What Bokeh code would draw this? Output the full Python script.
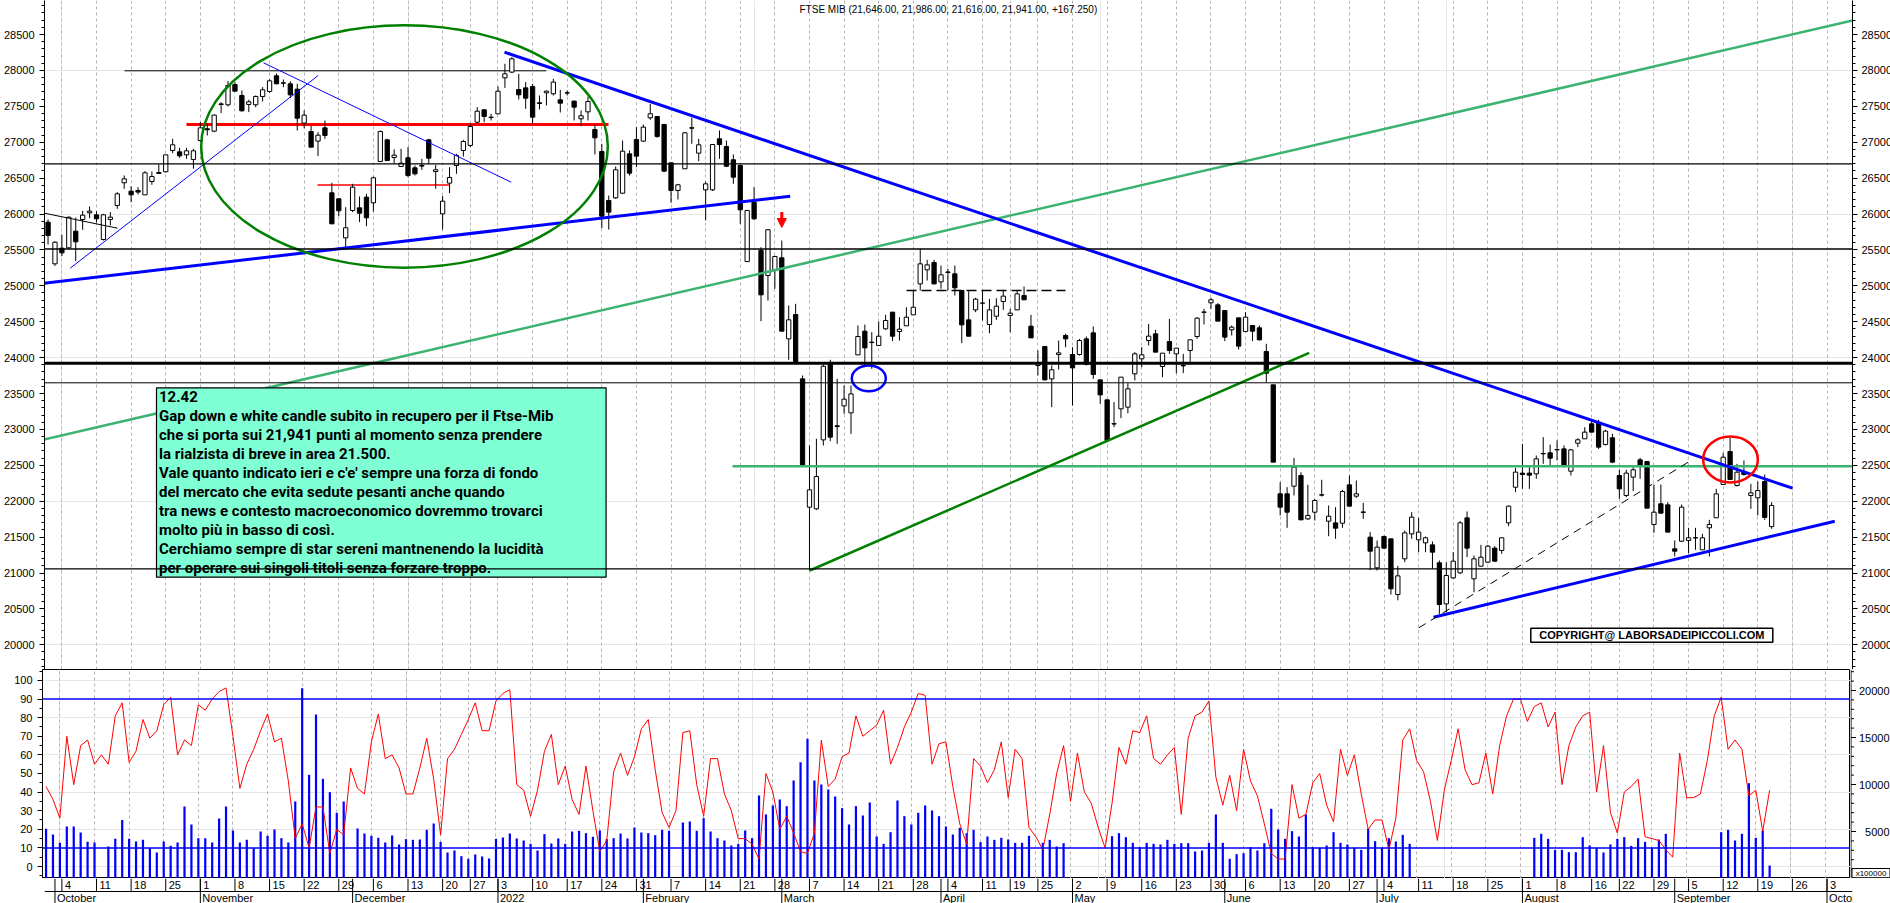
import pandas as pd
from bokeh.plotting import figure
from bokeh.layouts import column, row
from bokeh.models import (Range1d, LinearAxis, SingleIntervalTicker, FixedTicker,
                          Grid, Span, Arrow, NormalHead)
from bokeh.core.properties import value
from bokeh.embed import file_html
from bokeh.resources import INLINE

# ---------------- data (trading days 2021-09-30 .. 2022-09-21) ----------------
open_ = [25886, 25306, 25524, 25529, 25761, 25924, 26017, 25989, 25645, 25924,
         26119, 26435, 26318, 26328, 26267, 26453, 26565, 26588, 26885, 26866,
         26824, 26760, 27024, 27187, 27154, 27525, 27521, 27804, 27651, 27526,
         27521, 27637, 27707, 27925, 27820, 27813, 27739, 27266, 27149, 27015,
         27200, 26295, 26212, 25668, 26049, 26086, 26235, 26156, 26732, 27033,
         26787, 26662, 26783, 26643, 26676, 27033, 26592, 26002, 26430, 26676,
         26885, 26955, 27279, 27451, 27344, 27395, 27897, 27976, 27734, 27757,
         27776, 27549, 27688, 27674, 27590, 27688, 27572, 27326, 27423, 27177,
         26871, 26188, 26225, 26290, 26838, 27038, 27015, 27340, 27358, 27247,
         26713, 26328, 26630, 27201, 26848, 26337, 26337, 27047, 26940, 26755,
         26676, 25338, 26165, 25492, 25144, 25227, 25390, 24261, 24600, 23704,
         21917, 21894, 22854, 23922, 23050, 23328, 23231, 24038, 24368, 24210,
         24169, 24401, 24633, 24364, 24443, 24596, 25027, 25223, 25325, 25055,
         25193, 25167, 24935, 24526, 24665, 24758, 24461, 24577, 24781, 24587,
         24665, 24865, 24438, 23890, 24155, 23704, 24043, 24308, 24043, 24043,
         24261, 24345, 23690, 23412, 23075, 23287, 23310, 23774, 23983, 24238,
         24331, 23876, 24225, 24053, 23890, 24099, 24294, 24630, 24763, 24735,
         24656, 24387, 24554, 24364, 24447, 24415, 24085, 23621, 22103, 22103,
         22209, 22358, 21754, 21847, 22089, 21722, 21698, 21694, 22228, 22070,
         21850, 21499, 21072, 21508, 21476, 20700, 21197, 21545, 21462, 21420,
         21392, 21142, 20570, 20932, 21002, 21768, 20919, 21095, 21151, 21346,
         21314, 21699, 22195, 22391, 22391, 22381, 22665, 22674, 22720, 22729,
         22418, 22808, 22869, 23078, 23101, 22790, 22883, 22358, 22079, 22335,
         22576, 22553, 21676, 21964, 21949, 21337, 21443, 21453, 21488, 21323,
         21629, 21769, 22233, 22692, 22219, 22414, 22079, 22047, 22275, 21646]
high = [25924, 25620, 25710, 25965, 25952, 26044, 26105, 26040, 26003, 26026,
        26304, 26537, 26388, 26374, 26597, 26592, 26690, 26824, 27047, 26922,
        26922, 26908, 27279, 27256, 27386, 27558, 27851, 27837, 27721, 27591,
        27651, 27767, 27878, 27957, 27874, 27850, 27813, 27442, 27228, 27140,
        27303, 26435, 26212, 26095, 26420, 26244, 26281, 26523, 27163, 27047,
        26899, 26908, 26931, 26676, 26769, 27047, 26685, 26249, 26652, 26838,
        27033, 27256, 27488, 27451, 27395, 27776, 28092, 28185, 27953, 27837,
        27813, 27651, 27720, 27883, 27730, 27720, 27581, 27442, 27637, 27242,
        26978, 26258, 26662, 27024, 26885, 27210, 27247, 27535, 27358, 27256,
        26713, 26420, 27140, 27340, 27047, 26450, 26968, 27163, 27024, 26829,
        26690, 26060, 26374, 25538, 25790, 25420, 25631, 24726, 24749, 23751,
        22776, 22869, 23904, 23969, 23704, 23611, 23611, 24447, 24461, 24354,
        24503, 24596, 24633, 24563, 24702, 24935, 25515, 25362, 25362, 25283,
        25236, 25283, 24935, 24925, 24832, 24935, 24818, 24828, 24944, 24679,
        24935, 24990, 24596, 24099, 24155, 23890, 24238, 24331, 24145, 24261,
        24294, 24433, 23690, 23412, 23380, 23728, 23644, 24076, 24146, 24470,
        24387, 24062, 24540, 24132, 24053, 24248, 24563, 24679, 24833, 24758,
        24656, 24447, 24554, 24633, 24447, 24447, 24192, 23621, 22265, 22195,
        22604, 22404, 22228, 22033, 22298, 21940, 21917, 22158, 22358, 22288,
        21977, 21569, 21453, 21522, 21480, 21100, 21592, 21847, 21768, 21508,
        21439, 21174, 21151, 21290, 21722, 21857, 21244, 21392, 21392, 21374,
        21499, 21940, 22465, 22799, 22474, 22637, 22892, 22790, 22846, 22776,
        22729, 22878, 23031, 23124, 23133, 22994, 22939, 22437, 22437, 22474,
        22604, 22553, 22232, 22232, 21987, 21453, 21954, 21629, 21629, 21546,
        21741, 22172, 22669, 22883, 22520, 22567, 22242, 22275, 22372, 21986]
low = [25575, 25278, 25413, 25515, 25343, 25780, 25942, 25882, 25631, 25840,
       26072, 26351, 26165, 26272, 26267, 26407, 26565, 26578, 26848, 26783,
       26769, 26630, 27001, 27094, 27140, 27405, 27498, 27711, 27428, 27419,
       27488, 27567, 27688, 27809, 27767, 27614, 27163, 27196, 26931, 26806,
       27047, 25863, 25970, 25538, 26026, 25887, 25831, 26035, 26722, 26736,
       26704, 26662, 26513, 26537, 26616, 26699, 26351, 25784, 26290, 26560,
       26801, 26931, 27256, 27279, 27302, 27395, 27757, 27962, 27595, 27465,
       27256, 27456, 27512, 27651, 27414, 27651, 27303, 27224, 27303, 26829,
       25803, 25784, 26211, 26281, 26537, 26653, 27001, 27312, 27061, 26583,
       26156, 26202, 26630, 26978, 26736, 25910, 26320, 26769, 26653, 26420,
       25863, 25330, 25920, 24507, 24795, 24958, 24368, 23969, 23936, 22497,
       21035, 21880, 22776, 22836, 22799, 23217, 22938, 24038, 23867, 23844,
       24169, 24387, 24229, 24238, 24443, 24596, 24935, 25074, 25018, 24958,
       24935, 24865, 24201, 24298, 24633, 24517, 24340, 24526, 24665, 24354,
       24665, 24805, 24275, 23751, 23681, 23310, 23834, 24145, 23333, 24029,
       23890, 23704, 23356, 22822, 23031, 23157, 23226, 23681, 23867, 24169,
       24076, 23728, 24053, 23783, 23784, 23904, 24262, 24462, 24680, 24508,
       24229, 24308, 24113, 24354, 24229, 24238, 23658, 22544, 21801, 21629,
       22080, 21740, 21740, 21731, 22065, 21513, 21476, 21629, 21931, 22047,
       21754, 21040, 21035, 21337, 20700, 20620, 21151, 21476, 21290, 21290,
       21058, 20431, 20454, 20919, 20988, 21221, 20733, 21095, 21137, 21151,
       21267, 21652, 22126, 22172, 22172, 22312, 22520, 22497, 22567, 22474,
       22358, 22753, 22869, 22962, 22729, 22776, 22530, 22033, 22056, 22140,
       22312, 21903, 21559, 21833, 21569, 21230, 21430, 21276, 21323, 21323,
       21230, 21769, 22233, 22302, 22205, 22358, 21894, 21801, 21740, 21616]
close = [25701, 25608, 25459, 25956, 25613, 25984, 26040, 25933, 25989, 25956,
         26281, 26490, 26267, 26305, 26574, 26523, 26578, 26824, 26964, 26810,
         26880, 26880, 27200, 27173, 27377, 27534, 27790, 27711, 27437, 27563,
         27637, 27730, 27855, 27813, 27828, 27660, 27335, 27377, 26931, 27098,
         27094, 25863, 26045, 25808, 26374, 26012, 25947, 26504, 27149, 26745,
         26820, 26708, 26537, 26560, 26667, 26778, 26616, 26179, 26509, 26815,
         27010, 27219, 27432, 27358, 27349, 27711, 27953, 28162, 27660, 27614,
         27349, 27540, 27711, 27837, 27544, 27684, 27488, 27368, 27567, 27061,
         25970, 26026, 26616, 26875, 26569, 26806, 27210, 27396, 27080, 26597,
         26328, 26407, 27131, 27196, 26964, 26420, 26968, 26968, 26666, 26513,
         26058, 26049, 25933, 24874, 25780, 25408, 24368, 24526, 23946, 22497,
         22158, 22344, 23880, 22892, 23040, 23421, 23495, 24294, 24136, 24215,
         24298, 24517, 24298, 24396, 24563, 24702, 25306, 25292, 25027, 25153,
         25186, 24972, 24456, 24298, 24814, 24760, 24665, 24716, 24856, 24619,
         24888, 24805, 24275, 23922, 23690, 23830, 24066, 24261, 23857, 24238,
         23904, 23765, 23481, 22846, 23080, 23728, 23565, 24053, 24039, 24299,
         24076, 24062, 24099, 24132, 23885, 24248, 24549, 24636, 24805, 24508,
         24285, 24424, 24160, 24563, 24368, 24248, 23783, 22544, 21917, 21847,
         22474, 21740, 21801, 22010, 22085, 21791, 21624, 22135, 21931, 22103,
         21845, 21304, 21360, 21346, 20780, 20960, 21559, 21778, 21569, 21490,
         21290, 20561, 20965, 21165, 21699, 21346, 21197, 21220, 21374, 21165,
         21490, 21931, 22405, 22372, 22363, 22590, 22660, 22599, 22715, 22497,
         22715, 22855, 22962, 22962, 22753, 22976, 22544, 22172, 22391, 22437,
         22497, 21903, 21847, 21833, 21569, 21304, 21917, 21490, 21492, 21490,
         21676, 22102, 22613, 22302, 22404, 22372, 22116, 22149, 21774, 21941]
oscillator = [43, 36, 26, 70, 44, 65, 68, 55, 60, 55, 81, 88, 56, 62, 79, 69, 73, 87, 91, 60,
              68, 65, 87, 84, 90, 94, 96, 70, 42, 55, 63, 73, 82, 67, 69, 46, 15, 23, 10, 32,
              32, 7, 20, 17, 53, 42, 39, 67, 82, 58, 60, 53, 39, 39, 53, 69, 47, 17, 58, 63,
              71, 79, 88, 73, 73, 89, 93, 95, 44, 41, 27, 41, 62, 71, 44, 54, 36, 28, 54, 30,
              8, 14, 51, 61, 49, 59, 74, 79, 52, 29, 21, 30, 72, 73, 44,
              27, 58, 58, 39, 30, 15, 15, 12, 4, 50, 40, 20, 27, 18, 8, 7, 18, 68, 43, 47,
              59, 61, 81, 70, 73, 76, 84, 55, 64, 75, 83, 93, 92, 55, 66, 67, 43, 23, 12, 58,
              54, 45, 52, 67, 37, 63, 58, 21, 16, 9, 28, 50, 65, 35, 61, 40, 34, 21, 10, 34,
              64, 55, 73, 72, 81, 58, 55, 60, 64, 28, 69, 81, 83, 89, 48, 33, 49, 30, 63, 46,
              38, 23, 7, 4, 4, 44, 26, 28, 45, 50, 33, 24, 63, 49, 60, 39, 20, 25, 25, 9, 26,
              68, 74, 57, 51, 35, 14, 41, 57, 74, 52, 44, 45, 61, 39, 65, 81, 90, 90, 78, 86,
              88, 75, 83, 44, 65, 75, 81, 83, 40, 65, 29, 18, 40, 43, 47, 16, 15, 14, 9, 5,
              61, 37, 37, 39, 57, 81, 91, 63, 68, 63, 38, 41, 19, 41]
volume = [5286, 4683, 3796, 5534, 5534, 4896, 3902, 3831, 0, 3405, 4222, 6236, 4222, 3938,
          4115, 3228, 2767, 3938, 3476, 3831, 7661, 5747, 4293, 4293, 3831, 6377, 7661, 5108,
          3831, 4115, 3228, 5002, 4541, 5215, 4293, 3831, 8193, 20249, 11031, 17450, 10606,
          9186, 6987, 8193, 0, 5321, 4789, 4541, 4328, 3831, 4577, 3619, 4186, 4115, 4151,
          5179, 5853, 3902, 2767, 2980, 2376, 2093, 2554, 2341, 2128, 4222, 4364, 4789, 4257,
          4044, 3689, 2980, 4718, 3725, 4257, 3689, 5002, 5073, 4825, 4435, 5108, 4186, 4293,
          4789, 4257, 5428, 4896, 4825, 4612, 5179, 5073, 0, 5960, 6066, 5073,
          6419, 5001, 4291, 4043, 3511, 3689, 5107, 4291, 8831, 6810, 7767, 8406, 7696, 10427,
          12378, 14860, 10427, 10002, 9470, 8725, 7483, 5746, 7696, 6703, 8086, 4469, 3689,
          4930, 8299, 6632, 5746, 6987, 7767, 7235, 6632, 5533, 4682, 5391, 4823, 5178, 3866,
          4469, 4114, 4327, 4150, 3795, 3795, 4540, 0, 3795, 4114, 3405, 3759, 0, 0, 0, 0, 0,
          0, 4504, 4823, 4398, 3795, 3334, 3795, 3689, 3618, 4114, 3689, 3759, 3759, 2873,
          2979, 3795, 6810, 3795, 2093, 2589, 2695, 3334, 2979, 3759, 7413, 5214, 4221, 5036,
          4469, 6810, 3334, 3263, 3511, 4930, 3795, 3618, 3263, 3050, 5284, 3972, 3263, 4291,
          3937,
          4646, 3689, 0, 0, 0, 0, 0, 0, 0, 0, 0, 0, 0, 0, 0, 0, 0, 0, 0, 4327, 4753, 4221,
          3050, 3050, 2802, 2802, 4398, 3511, 3263, 2766, 3618, 4221, 4398, 3476, 4291, 3902,
          3263, 4150, 4753, 0, 0, 0, 0, 0, 0, 0, 4930, 5178, 4043, 4753, 10143, 4327, 5107,
          1383]
closed_days = ["2021-12-24", "2021-12-31", "2022-04-15", "2022-04-18", "2022-08-15"]
month_names = ["October", "November", "December", "2022", "February", "March", "April",
               "May", "June", "July", "August", "September", "October"]
vol_ticks = [5000, 10000, 15000, 20000]
vol_tick_labels = ["5000", "10000", "15000", "20000"]
vol_unit_text = "x100000"
title_text = "FTSE MIB (21,646.00, 21,986.00, 21,616.00, 21,941.00, +167.250)"
note_lines = ["12.42",
              "Gap down e white candle subito in recupero per il Ftse-Mib",
              "che si porta sui 21,941 punti al momento senza prendere",
              "la rialzista di breve in area 21.500.",
              "Vale quanto indicato ieri e c'e' sempre una forza di fondo",
              "del mercato che evita sedute pesanti anche quando",
              "tra news e contesto macroeconomico dovremmo trovarci",
              "molto più in basso di così.",
              "Cerchiamo sempre di star sereni mantnenendo la lucidità",
              "per operare sui singoli titoli senza forzare troppo."]
copyright_text = "COPYRIGHT@ LABORSADEIPICCOLI.COM"

# ---------------- calendar ----------------
days = pd.bdate_range("2021-09-30", "2022-10-07")
days = days[~days.isin(pd.to_datetime(closed_days))]
n = len(open_)
idx = list(range(-2, -2 + n))

week_idx, week_lab = [], []
prev = None
for k, d in enumerate(days):
    key = tuple(d.isocalendar())[:2]
    if key != prev and d >= pd.Timestamp("2021-10-04"):
        week_idx.append(k - 2)
        week_lab.append(str(d.day))
    prev = key
month_idx = []
prevm = days[0].month
for k, d in enumerate(days):
    if d.month != prevm:
        month_idx.append(k - 2)
    prevm = d.month
month_idx = month_idx[:len(month_names)]

# ---------------- pixel helpers for drawn annotations ----------------
X0, DX = 59.4, 6.922
Y0, DP = 644.3, 13.928
def ix(px):
    return (px - X0) / DX
def pr(py):
    return 20000 + (Y0 - py) * DP

FONT = "Liberation Sans"
LEFT, RIGHT, FW = 42, 40, 1808

def style_axis(ax, standoff):
    ax.axis_line_color = "black"
    ax.major_tick_line_color = "black"
    ax.minor_tick_line_color = "black"
    ax.major_tick_in = 0
    ax.major_tick_out = 5
    ax.minor_tick_in = 0
    ax.minor_tick_out = 3
    ax.major_label_standoff = standoff
    ax.major_label_text_font = FONT
    ax.major_label_text_font_size = "11px"
    ax.major_label_text_color = "black"

xr = Range1d(ix(LEFT), ix(LEFT + FW))

# ---------------- main price panel ----------------
p1 = figure(frame_width=FW, frame_height=669, x_range=xr, y_range=Range1d(pr(669), pr(0)),
            min_border_left=LEFT, min_border_right=RIGHT, min_border_top=0, min_border_bottom=0,
            toolbar_location=None, output_backend="svg", x_axis_location=None,
            y_axis_location=None, outline_line_color=None,
            background_fill_color="white", border_fill_color="white")
for side, so in (("left", 5), ("right", 4)):
    ax = LinearAxis(ticker=SingleIntervalTicker(interval=500, num_minor_ticks=5))
    style_axis(ax, so)
    p1.add_layout(ax, side)
p1.add_layout(Grid(dimension=0, ticker=FixedTicker(ticks=week_idx),
                   grid_line_color="#b4b4b4", grid_line_dash="3 3"))

for loc, w in ((pr(163.3), 1.3), (pr(248.5), 1.3), (pr(362.7), 3), (pr(382.3), 1), (pr(568.3), 1.3)):
    p1.add_layout(Span(location=loc, dimension="width", line_color="black", line_width=w))

# partial horizontal levels
hsegs = [(122, 70.3, 543.8, 70.3, "black", 1, "solid"),
         (184, 124, 606, 124, "#ff0000", 3, "solid"),
         (315, 184.6, 447, 184.6, "#ff0000", 1.5, "solid"),
         (904, 290, 1063, 290, "black", 1.5, "10 5")]
for x0, y0, x1, y1, c, w, dsh in hsegs:
    p1.segment(x0=[ix(x0)], y0=[pr(y0)], x1=[ix(x1)], y1=[pr(y1)], line_color=c,
               line_width=w, line_dash=dsh)

# candles
p1.segment(x0=idx, y0=low, x1=idx, y1=high, line_color="black", line_width=1)
up = [k for k in range(n) if close[k] >= open_[k]]
dn = [k for k in range(n) if close[k] < open_[k]]
p1.vbar(x=[idx[k] for k in up], top=[close[k] for k in up], bottom=[open_[k] for k in up],
        width=0.62, fill_color="white", line_color="black", line_width=1)
p1.vbar(x=[idx[k] for k in dn], top=[open_[k] for k in dn], bottom=[close[k] for k in dn],
        width=0.62, fill_color="black", line_color="black", line_width=1)

# trend lines
tlines = [(730, 465.7, 1850, 465.7, "#3cb371", 2.5, "solid"),
          (41.5, 439, 1850, 20, "#3cb371", 2.5, "solid"),
          (807.3, 570, 1306.7, 352.3, "#008000", 2.5, "solid"),
          (41.5, 282.7, 787.7, 195.7, "#0000ff", 3, "solid"),
          (502, 51.7, 1790, 487.7, "#0000ff", 3, "solid"),
          (1431, 616.7, 1832.3, 520.7, "#0000ff", 3, "solid"),
          (67.7, 267.7, 315.7, 75, "#0000ff", 1, "solid"),
          (261, 62.3, 508.7, 181.7, "#0000ff", 1, "solid"),
          (42, 212.7, 115, 227.7, "black", 1, "solid"),
          (1416.3, 627.3, 1687.3, 460.7, "black", 1, "8 6")]
for x0, y0, x1, y1, c, w, dsh in tlines:
    p1.segment(x0=[ix(x0)], y0=[pr(y0)], x1=[ix(x1)], y1=[pr(y1)], line_color=c,
               line_width=w, line_dash=dsh)

for cx, cy, w, h, c in ((402, 146, 406.7, 242.3, "#008000"),
                        (866.3, 377.8, 34, 25.7, "#0000ff"),
                        (1728, 459, 54.7, 46, "#ff0000")):
    p1.ellipse(x=[ix(cx)], y=[pr(cy)], width=[w], height=[h], width_units="screen",
               height_units="screen", fill_color=None, line_color=c, line_width=2.5)

p1.add_layout(Arrow(x_start=ix(779.3), y_start=pr(211.5), x_end=ix(779.3), y_end=pr(227),
                    line_color="#ff0000", line_width=3,
                    end=NormalHead(size=9, fill_color="#ff0000", line_color="#ff0000")))

# comment box
p1.quad(left=[ix(154)], right=[ix(603.6)], top=[pr(387.3)], bottom=[pr(576.7)],
        fill_color="#7fffd4", line_color="black", line_width=1.2)
p1.text(x=[ix(156.5)] * len(note_lines), y=[pr(396 + 19 * k) for k in range(len(note_lines))],
        text=note_lines, text_font=value("Roboto"), text_font_style="bold",
        text_font_size="15px", text_color="black", text_baseline="middle", text_align="left")

# copyright
p1.quad(left=[ix(1528.3)], right=[ix(1770.3)], top=[pr(627.7)], bottom=[pr(641.7)],
        fill_color="white", line_color="black", line_width=1.5)
p1.text(x=[ix(1649.3)], y=[pr(634.9)], text=[copyright_text], text_font=value(FONT),
        text_font_style="bold", text_font_size="11px", text_color="black",
        text_baseline="middle", text_align="center")

# title
p1.text(x=[ix(797)], y=[pr(9)], text=[title_text], text_font=value(FONT),
        text_font_size="10px", text_color="black", text_baseline="middle", text_align="left")

# ---------------- oscillator / volume panel ----------------
OSC_LO, OSC_HI = -6.45, 105.9
VOL_TOP = 209 * 5000 / 47
p2 = figure(frame_width=FW, frame_height=209, x_range=xr, y_range=Range1d(OSC_LO, OSC_HI),
            min_border_left=LEFT, min_border_right=0, min_border_top=0, min_border_bottom=0,
            toolbar_location=None, output_backend="svg", x_axis_location=None,
            y_axis_location=None, outline_line_color="black",
            background_fill_color="white", border_fill_color="white")
p2.extra_y_ranges = {"vol": Range1d(0, VOL_TOP)}
axl = LinearAxis(ticker=SingleIntervalTicker(interval=10, num_minor_ticks=2))
style_axis(axl, 5)
p2.add_layout(axl, "left")
p2.add_layout(Grid(dimension=0, ticker=FixedTicker(ticks=week_idx),
                   grid_line_color="#b4b4b4", grid_line_dash="3 3"))
p2.add_layout(Span(location=90, dimension="width", line_color="#0000ff", line_width=1.5))
p2.add_layout(Span(location=10, dimension="width", line_color="#0000ff", line_width=1.5))
p2.vbar(x=idx, top=volume, bottom=0, width=0.32, fill_color="#0000ff", line_color=None,
        y_range_name="vol")
p2.line(x=idx, y=oscillator, line_color="#ff0000", line_width=1)

# right-hand volume scale, drawn as its own narrow strip
p2r = figure(frame_width=RIGHT, frame_height=209, x_range=Range1d(0, RIGHT),
             y_range=Range1d(0, VOL_TOP), min_border_left=0, min_border_right=0,
             min_border_top=0, min_border_bottom=0, toolbar_location=None,
             output_backend="svg", x_axis_location=None, y_axis_location=None,
             outline_line_color=None, background_fill_color="white",
             border_fill_color="white")
p2r.grid.visible = False
p2r.segment(x0=[0.5], y0=[0], x1=[0.5], y1=[VOL_TOP], line_color="black", line_width=1)
minor = [k * 1000 for k in range(1, 23) if k % 5]
p2r.segment(x0=0.5, y0=minor, x1=3.5, y1=minor, line_color="black", line_width=1)
p2r.segment(x0=0.5, y0=vol_ticks, x1=5.5, y1=vol_ticks, line_color="black", line_width=1)
p2r.text(x=39, y=vol_ticks, text=vol_tick_labels, text_font=value(FONT),
         text_font_size="11px", text_color="black", text_baseline="middle",
         text_align="right")
p2r.quad(left=[1.5], right=[39.5], top=[(878 - 868) * 5000 / 47],
         bottom=[(878 - 877.2) * 5000 / 47], fill_color="white", line_color="black",
         line_width=1)
p2r.text(x=[20.5], y=[(878 - 872.6) * 5000 / 47], text=[vol_unit_text], text_font=value(FONT),
         text_font_size="8px", text_color="black", text_baseline="middle", text_align="center")

# ---------------- date axis strip ----------------
p3 = figure(frame_width=FW, frame_height=25, x_range=xr, y_range=Range1d(0, 25),
            min_border_left=LEFT, min_border_right=RIGHT, min_border_top=0, min_border_bottom=0,
            toolbar_location=None, output_backend="svg", x_axis_location=None,
            y_axis_location=None, outline_line_color=None,
            background_fill_color="white", border_fill_color="white")
p3.grid.visible = False
p3.add_layout(Span(location=12, dimension="width", line_color="black", line_width=1))
p3.segment(x0=week_idx, y0=12, x1=week_idx, y1=25, line_color="black", line_width=1)
p3.segment(x0=month_idx, y0=0, x1=month_idx, y1=25, line_color="black", line_width=1)
p3.text(x=week_idx, y=18.5, text=week_lab, x_offset=3, text_font=value(FONT),
        text_font_size="11px", text_color="black", text_baseline="middle", text_align="left")
p3.text(x=month_idx, y=5.5, text=month_names, x_offset=2, text_font=value(FONT),
        text_font_size="11px", text_color="black", text_baseline="middle", text_align="left")

layout = column(p1, row(p2, p2r, spacing=0), p3, spacing=0)
open("out.html", "w").write(file_html(layout, INLINE))
